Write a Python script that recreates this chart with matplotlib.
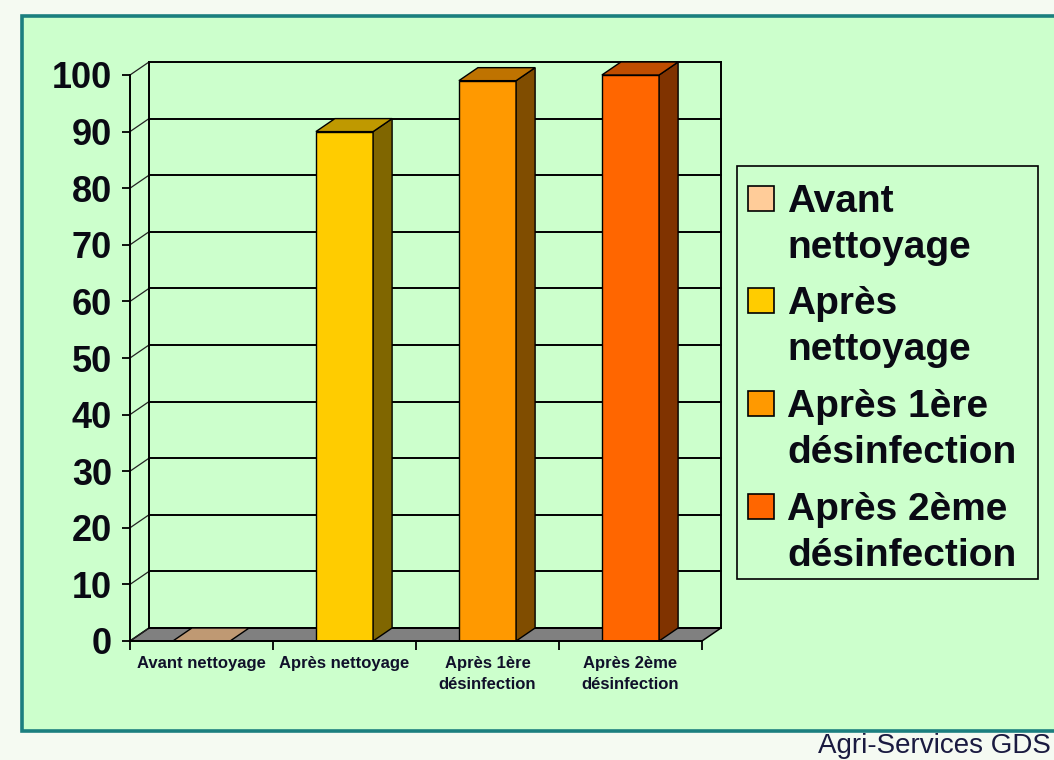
import matplotlib.pyplot as plt
from matplotlib.patches import Polygon, Rectangle
from matplotlib.colors import to_rgb

# data
categories = ["Avant nettoyage", "Après nettoyage", "Après 1ère\ndésinfection", "Après 2ème\ndésinfection"]
values = [0, 90, 99, 100]
colors = ["#FFCC99", "#FFCC00", "#FF9900", "#FF6600"]
legend_labels = ["Avant\nnettoyage", "Après\nnettoyage", "Après 1ère\ndésinfection", "Après 2ème\ndésinfection"]
yticks = list(range(0, 101, 10))
source = "Agri-Services GDS"

plt.rcParams['font.family'] = ['Liberation Sans', 'DejaVu Sans']

W, H = 1054, 760


def fx(px):
    return px / W


def fy(py):
    return 1 - py / H


def shade(c, f):
    r, g, b = to_rgb(c)
    return (r * f, g * f, b * f)


fig = plt.figure(figsize=(W / 100, H / 100), dpi=100, facecolor="#F5FAF2")

# green panel with teal frame
fig.patches.append(Rectangle((fx(22), fy(731)), fx(1080) - fx(22), fy(16) - fy(731),
                             transform=fig.transFigure, facecolor="#CCFFCC",
                             edgecolor="#1B7F7F", lw=2.6, zorder=-1))

ax = fig.add_axes([fx(130), fy(641), fx(702) - fx(130), fy(75) - fy(641)])
ax.set_xlim(0, len(categories))
ax.set_ylim(0, 100)
ax.patch.set_visible(False)

dx = 19 / 143.0   # depth offset in data units (x)
dy = 13 / 5.66    # depth offset in data units (y)
n = len(categories)
bw = 0.4

# floor
ax.add_patch(Polygon([(0, 0), (n, 0), (n + dx, dy), (dx, dy)], closed=True,
                     facecolor="#808080", edgecolor="black", lw=1.1, clip_on=False, zorder=1))

# back wall gridlines and left wall diagonals
for t in yticks:
    ax.plot([dx, n + dx], [t + dy, t + dy], color="black", lw=1.4, clip_on=False, zorder=1.5)
    ax.plot([0, dx], [t, t + dy], color="#222222", lw=0.9, clip_on=False, zorder=1.5)
ax.plot([dx, dx], [dy, 100 + dy], color="black", lw=1.4, clip_on=False, zorder=1.5)
ax.plot([n + dx, n + dx], [dy, 100 + dy], color="black", lw=1.4, clip_on=False, zorder=1.5)

# bars
xs = [i + 0.5 for i in range(n)]
ax.bar(xs, values, width=bw, color=colors, edgecolor="black", lw=1.0, zorder=3)
for x, v, c in zip(xs, values, colors):
    x0, x1 = x - bw / 2, x + bw / 2
    if v > 0:
        ax.add_patch(Polygon([(x1, 0), (x1 + dx, dy), (x1 + dx, v + dy), (x1, v)], closed=True,
                             facecolor=shade(c, 0.5), edgecolor="black", lw=1.0,
                             clip_on=False, zorder=3))
    ax.add_patch(Polygon([(x0, v), (x1, v), (x1 + dx, v + dy), (x0 + dx, v + dy)], closed=True,
                         facecolor=shade(c, 0.75), edgecolor="black", lw=1.0,
                         clip_on=False, zorder=3))

# axes
for s in ["top", "right"]:
    ax.spines[s].set_visible(False)
for s in ["left", "bottom"]:
    ax.spines[s].set_linewidth(1.4)
    ax.spines[s].set_zorder(4)

ax.set_yticks(yticks)
ax.set_yticklabels([str(t) for t in yticks], fontsize=26, fontweight="bold", color="#0A0A14")
ax.tick_params(axis="y", length=5.8, width=1.3, pad=7)

ax.set_xticks(xs)
ax.set_xticklabels(categories, fontsize=12, fontweight="bold", color="#10102A", linespacing=1.5)
ax.set_xticks(range(n + 1), minor=True)
ax.tick_params(axis="x", which="major", length=0, pad=11)
ax.tick_params(axis="x", which="minor", length=6.5, width=1.3)

# legend drawn by hand so the swatch sits on the first line
fig.patches.append(Rectangle((fx(737), fy(579)), fx(1038) - fx(737), fy(166) - fy(579),
                             transform=fig.transFigure, facecolor="none",
                             edgecolor="black", lw=1.2, zorder=5))
base = [212, 314, 417, 520]
for b, lab, c in zip(base, legend_labels, colors):
    fig.patches.append(Rectangle((fx(748), fy(b - 1)), fx(774) - fx(748), fy(b - 26) - fy(b - 1),
                                 transform=fig.transFigure, facecolor=c,
                                 edgecolor="black", lw=1.2, zorder=5))
    for k, line in enumerate(lab.split("\n")):
        fig.text(fx(787), fy(b + 46 * k), line, fontsize=28, fontweight="bold",
                 color="#0A0A14", va="baseline", ha="left")

fig.text(fx(818), fy(753), source, fontsize=20, color="#1A1A40", va="baseline", ha="left")

fig.savefig("out.png", dpi=100, facecolor=fig.get_facecolor())
